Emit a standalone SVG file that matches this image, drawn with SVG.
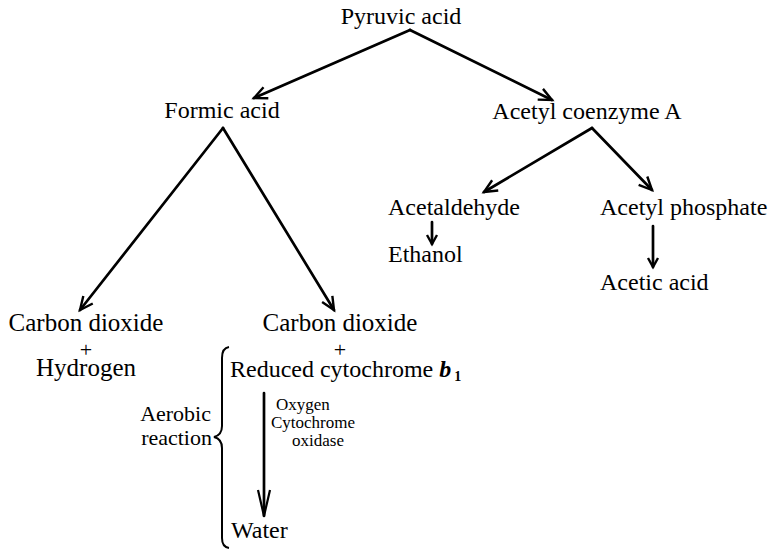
<svg xmlns="http://www.w3.org/2000/svg" width="781" height="551" viewBox="0 0 781 551" font-family="'Liberation Serif', 'DejaVu Serif', serif">
  <style>
    text { font-family: 'Liberation Serif', 'DejaVu Serif', serif; fill: #000; }
    .lbl { font-size: 24px; }
    .big { font-size: 25px; }
    .mid { text-anchor: middle; }
    .plus { font-size: 22px; text-anchor: middle; }
    .small { font-size: 17px; }
    .side { font-size: 22px; text-anchor: end; }
    .edge { fill: none; stroke: #000; stroke-width: 2.7; stroke-linecap: round; }
    .thin { fill: none; stroke: #000; stroke-width: 2; }
  </style>
  <defs>
    <marker id="head" markerUnits="userSpaceOnUse" markerWidth="24" markerHeight="20" refX="0" refY="0" viewBox="-14 -10 16 20" orient="auto">
      <path d="M-13,-6 L0,0 L-13,6" fill="none" stroke="#000" stroke-width="2.4" stroke-linejoin="miter"/>
    </marker>
    <marker id="headLong" markerUnits="userSpaceOnUse" markerWidth="30" markerHeight="20" refX="0" refY="0" viewBox="-28 -10 30 20" orient="auto">
      <path d="M-26,-6 L0,0 L-26,6" fill="none" stroke="#000" stroke-width="2.2"/>
    </marker>
    <marker id="headSmall" markerUnits="userSpaceOnUse" markerWidth="16" markerHeight="14" refX="0" refY="0" viewBox="-10 -7 12 14" orient="auto">
      <path d="M-9,-5 L0,0 L-9,5" fill="none" stroke="#000" stroke-width="2.4"/>
    </marker>
  </defs>

  <!-- connectors -->
  <g id="connectors">
    <path class="edge" d="M410,30 L254,98" marker-end="url(#head)"/>
    <path class="edge" d="M410,30 L552,100" marker-end="url(#head)"/>
    <path class="edge" d="M223,128 L80,310" marker-end="url(#head)"/>
    <path class="edge" d="M223,128 L334,310" marker-end="url(#head)"/>
    <path class="edge" d="M592,128 L484,192" marker-end="url(#head)"/>
    <path class="edge" d="M592,128 L652,190" marker-end="url(#head)"/>
    <path class="edge" d="M432,222 L432,244" marker-end="url(#headSmall)"/>
    <path class="edge" d="M653,226 L653,267" marker-end="url(#headSmall)"/>
    <path class="edge" d="M264,393 L264,516" marker-end="url(#headLong)"/>
  </g>

  <g id="pyruvic"><text class="lbl mid" x="401" y="24">Pyruvic acid</text></g>
  <g id="formic"><text class="lbl mid" x="222" y="118">Formic acid</text></g>
  <g id="acetylcoa"><text class="lbl mid" x="587" y="119">Acetyl coenzyme A</text></g>
  <g id="acetaldehyde"><text class="lbl" x="388" y="215">Acetaldehyde</text></g>
  <g id="ethanol"><text class="lbl" x="388" y="262">Ethanol</text></g>
  <g id="acetylphosphate"><text class="lbl" x="600" y="215">Acetyl phosphate</text></g>
  <g id="acetic"><text class="lbl" x="600" y="290">Acetic acid</text></g>

  <g id="co2-h2">
    <text class="big mid" x="86" y="331">Carbon dioxide</text>
    <text class="plus" x="86" y="357">+</text>
    <text class="big mid" x="86" y="376">Hydrogen</text>
  </g>

  <g id="co2-cyt">
    <text class="big mid" x="340" y="331">Carbon dioxide</text>
    <text class="plus" x="340" y="357">+</text>
    <text class="lbl" x="230" y="377">Reduced cytochrome <tspan font-style="italic" font-weight="bold">b</tspan><tspan font-size="14" dx="3" dy="4" font-weight="bold">1</tspan></text>
  </g>

  <g id="enzyme-label">
    <text class="small" x="276" y="410">Oxygen</text>
    <text class="small" x="271" y="428">Cytochrome</text>
    <text class="small" x="292" y="446">oxidase</text>
  </g>

  <g id="water"><text class="lbl" x="231" y="538">Water</text></g>

  <g id="aerobic">
    <path class="thin" d="M229,347 Q222,348 222,358 L222,426 Q222,435 214,437 Q222,439 222,448 L222,538 Q222,547 229,548"/>
    <text class="side" x="211" y="421">Aerobic</text>
    <text class="side" x="212" y="445">reaction</text>
  </g>
</svg>
